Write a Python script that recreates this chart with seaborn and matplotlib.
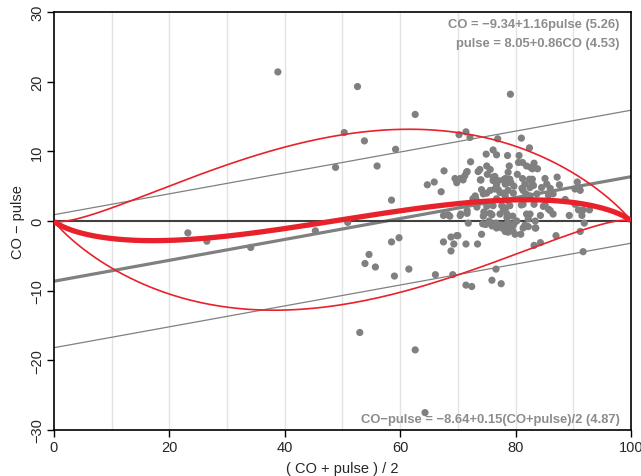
import numpy as np
import pandas as pd
import matplotlib
matplotlib.use("Agg")
import matplotlib.pyplot as plt
import seaborn as sns

# mean (CO + pulse)/2 and difference CO - pulse
avg = [23.2, 26.5, 34.1, 38.8, 45.3, 48.8, 50.3, 50.9, 52.6, 53.0, 53.8, 53.9,
       54.6, 55.7, 56.0, 58.5, 58.5, 59.0, 59.2, 59.8, 61.5, 62.6, 62.6, 64.3,
       79.1, 70.2, 71.4, 72.1, 76.9, 81.0, 82.4, 74.9, 76.1, 76.7, 78.6, 80.6,
       72.2, 78.9, 80.5, 81.2, 81.9, 83.2, 82.9, 83.8, 82.6, 67.6, 71.6, 71.2,
       73.5, 73.8, 75.0, 75.6, 75.1, 74.0, 76.1, 78.2, 78.7, 78.7, 70.4, 69.8,
       70.9, 69.5, 71.5, 65.9, 64.7, 67.1, 73.9, 76.4, 76.1, 77.0, 77.9, 78.2,
       79.0, 79.2, 79.7, 81.1, 81.6, 82.4, 82.8, 83.1, 80.3, 81.2, 82.9, 85.1,
       87.2, 87.6, 85.4, 84.5, 86.0, 90.7, 91.0, 90.3, 91.2, 82.5, 81.3, 81.8,
       82.5, 79.6, 83.7, 85.7, 86.5, 74.1, 74.4, 75.6, 76.7, 77.0, 77.9, 78.7,
       76.4, 77.3, 78.2, 75.0, 73.0, 73.1, 72.6, 76.7, 78.7, 88.6,
       77.9, 75.0, 73.3, 71.6, 70.4, 67.5, 68.6, 75.6, 78.5, 74.7, 76.1, 77.6,
       77.9, 77.3, 74.5, 74.4, 75.9, 75.4, 78.5, 78.2, 79.5, 81.0, 82.5, 83.2,
       84.3, 85.1, 86.0, 86.5, 89.3, 90.3, 90.9, 91.5, 92.8, 91.7, 81.3, 79.0,
       84.8, 85.7, 81.9, 82.2, 83.4, 70.5, 71.6, 68.3,
       71.8, 75.6, 76.6, 77.3, 78.3, 78.5, 78.7, 79.1, 79.7, 80.2, 79.5, 79.9,
       78.7, 75.9, 76.7, 77.6, 74.3, 74.8, 74.1, 73.4, 71.4, 70.0, 68.8, 69.3,
       67.5, 68.8, 69.8, 77.6, 78.2, 78.7, 79.6, 80.9, 81.3, 81.6, 83.5, 82.2,
       83.4, 87.0, 91.2, 91.9, 83.2, 84.3, 91.7,
       66.1, 69.1, 71.4, 72.4, 76.6, 75.9, 77.5]
diff = [-1.7, -2.9, -3.8, 21.4, -1.4, 7.7, 12.7, -0.2, 19.3, -16.0, 11.5, -6.1,
        -4.8, -6.6, 7.9, 3.0, -3.0, -7.9, 10.3, -2.4, -6.9, 15.3, -18.5, -27.5,
        18.2, 12.4, 12.8, 12.0, 11.8, 11.9, 10.5, 9.6, 10.2, 9.5, 9.4, 9.4,
        8.5, 7.9, 8.4, 8.4, 7.9, 8.3, 7.5, 7.5, 7.7, 7.2, 7.1, 6.5,
        7.1, 7.4, 7.9, 7.4, 6.7, 5.9, 6.3, 6.1, 5.5, 7.0, 6.1, 5.5,
        5.9, 6.1, 7.0, 5.6, 5.2, 4.2, 5.9, 6.4, 5.8, 5.8, 5.9, 5.3,
        6.0, 5.5, 5.0, 4.7, 5.3, 6.0, 5.5, 5.1, 6.7, 6.1, 6.0, 6.1,
        6.3, 5.2, 5.3, 4.8, 4.7, 5.6, 4.8, 4.6, 4.4, 4.8, 4.4, 3.9,
        3.6, 4.0, 3.9, 3.7, 3.9, 4.5, 3.9, 4.4, 5.2, 4.5, 4.0, 4.4,
        4.6, 4.1, 3.6, 4.0, 3.6, 3.2, 3.2, 3.2, 2.9, 3.1,
        2.0, 2.1, 2.0, 1.5, 0.8, 0.8, 0.7, 1.1, 1.0, 1.1, 2.2, 2.2,
        1.6, 1.0, 1.3, 0.7, 0.9, 0.0, 0.5, 1.7, 0.7, 2.3, 1.0, 2.4,
        0.8, 2.3, 1.5, 1.0, 0.8, 2.4, 1.6, 0.8, 1.6, 1.6, 2.4, 2.2,
        2.1, 1.7, 1.0, 0.3, 0.0, 1.0, 1.1, 0.9,
        -0.3, -0.2, -0.3, -0.6, -1.4, -0.4, -0.2, -0.8, -0.4, 0.0, -1.4, -1.9,
        -1.6, -0.7, -1.0, -1.0, -0.4, -0.5, -1.9, -3.3, -3.3, -2.1, -2.3, -3.3,
        -3.0, -4.3, -2.1, -0.6, -1.5, -0.7, -0.6, -1.9, -1.0, -0.6, -1.0, -0.8,
        -1.0, -2.1, -1.5, -0.3, -3.5, -3.1, -4.4,
        -7.7, -7.7, -9.2, -9.4, -6.9, -8.5, -9.0]

# linear Bland-Altman regression from the annotation
ba_icpt = -8.64
ba_slope = 0.15
ba_sd = 4.87

# same analysis on the logit scale (estimated from the red curves)
lg_icpt = 0.008
lg_slope = 0.131
lg_loa = 0.49

df = pd.DataFrame({"avg": avg, "diff": diff})

sns.set_style("white")
plt.rcParams['font.family'] = ['Liberation Sans', 'DejaVu Sans']

fig = plt.figure(figsize=(6.41, 4.77), dpi=100)
ax = fig.add_axes([0.0842, 0.0964, 0.9002, 0.8763])

for gx in range(10, 100, 10):
    ax.axvline(gx, color="#e3e3e3", lw=1, zorder=0)

xs = np.array([0, 100])
ax.plot(xs, ba_icpt + ba_slope * xs, color="#808080", lw=2.3, zorder=2)
for k in (-1.96, 1.96):
    ax.plot(xs, ba_icpt + k * ba_sd + ba_slope * xs, color="#808080", lw=0.9, zorder=2)

ax.axhline(0, color="#404040", lw=1.5, zorder=2)

sns.scatterplot(data=df, x="avg", y="diff", color="#808080", s=27,
                edgecolor="none", ax=ax, zorder=3)


def expit(t):
    return 1 / (1 + np.exp(-t))


m = np.linspace(-12, 12, 800)
for k, w in ((0, 3.8), (1, 1.2), (-1, 1.2)):
    d = lg_icpt + lg_slope * m + k * lg_loa
    y1 = 100 * expit(m + d / 2)
    y2 = 100 * expit(m - d / 2)
    ax.plot((y1 + y2) / 2, y1 - y2, color="#e8212b", lw=w, zorder=4,
            solid_capstyle="butt")

ax.set_xlim(0, 100)
ax.set_ylim(-30, 30)
ax.set_xticks(range(0, 101, 20))
ax.set_yticks(range(-30, 31, 10))
ax.tick_params(axis="both", direction="out", length=5, width=1, labelsize=10.5,
               bottom=True, left=True, color="black", pad=2)
for lab in ax.get_yticklabels():
    lab.set_rotation(90)
    lab.set_va("center")
for sp in ax.spines.values():
    sp.set_color("black")
    sp.set_linewidth(1.2)

ax.set_xlabel("( CO + pulse ) / 2", fontsize=10.5, labelpad=5)
ax.set_ylabel("CO \u2212 pulse", fontsize=10.5, labelpad=4)

txt = dict(color="#8c8c8c", fontsize=9.4, fontweight="bold", ha="right",
           transform=ax.transAxes)
ax.text(0.98, 0.985, "CO = \u22129.34+1.16pulse (5.26)", va="top", **txt)
ax.text(0.98, 0.94, "pulse = 8.05+0.86CO (4.53)", va="top", **txt)
ax.text(0.98, 0.012, "CO\u2212pulse = \u22128.64+0.15(CO+pulse)/2 (4.87)",
        va="bottom", **txt)

fig.savefig("out.png", dpi=100)
